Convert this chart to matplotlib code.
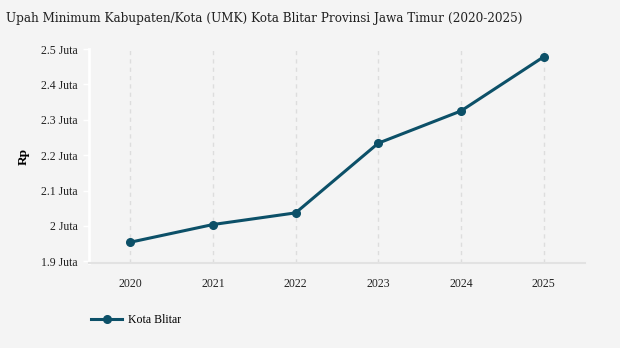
import matplotlib
matplotlib.use("Agg")
import matplotlib.pyplot as plt
from matplotlib.lines import Line2D

# ── Data ──────────────────────────────────────────────────────────────────────
years = [2020, 2021, 2022, 2023, 2024, 2025]
umk_juta = [1.954, 2.004, 2.037, 2.234, 2.325, 2.478]
y_ticks = [1.9, 2.0, 2.1, 2.2, 2.3, 2.4, 2.5]
y_labels = ["1.9 Juta", "2 Juta", "2.1 Juta", "2.2 Juta", "2.3 Juta", "2.4 Juta", "2.5 Juta"]

BG = "#f4f4f4"
LINE = "#0c5068"
serif = ["Liberation Serif", "DejaVu Serif"]

fig = plt.figure(figsize=(6.2, 3.48), dpi=100, facecolor=BG)
ax = fig.add_axes([0.1435, 0.244, 0.80, 0.615], facecolor=BG)

ax.plot(years, umk_juta, color=LINE, linewidth=2.2, marker="o", markersize=5.5, zorder=3)

ax.set_xlim(2019.5, 2025.5)
ax.set_ylim(1.895, 2.5)
ax.set_xticks(years)
ax.set_xticklabels([str(y) for y in years], family=serif, fontsize=8.5, color="#222222")
ax.set_yticks(y_ticks)
ax.set_yticklabels(y_labels, family=serif, fontsize=8.5, color="#222222")
ax.tick_params(axis="x", length=0, pad=11)
ax.tick_params(axis="y", length=4, color="white", width=1, pad=4)

ax.grid(axis="x", color="#dddddd", linestyle=(0, (3, 3)), linewidth=1)
ax.set_axisbelow(True)
for s in ["top", "right"]:
    ax.spines[s].set_visible(False)
ax.spines["left"].set_color("white")
ax.spines["left"].set_linewidth(2)
ax.spines["bottom"].set_color("#e2e2e2")
ax.spines["bottom"].set_linewidth(1.5)

ax.set_ylabel("Rp", family=serif, fontsize=9.5, fontweight="bold", labelpad=8)

fig.text(0.010, 0.948, "Upah Minimum Kabupaten/Kota (UMK) Kota Blitar Provinsi Jawa Timur (2020-2025)",
         family=["DejaVu Serif"], fontstretch="condensed", fontsize=9.6, color="#222222",
         va="center", ha="left")

handle = Line2D([], [], color=LINE, linewidth=2.2, marker="o", markersize=5.5)
fig.legend([handle], ["Kota Blitar"], loc="center left", bbox_to_anchor=(0.13, 0.08),
           frameon=False, prop={"family": serif, "size": 8.5}, handlelength=2.6, handletextpad=0.5)

fig.savefig("out.png", dpi=100, facecolor=BG)
